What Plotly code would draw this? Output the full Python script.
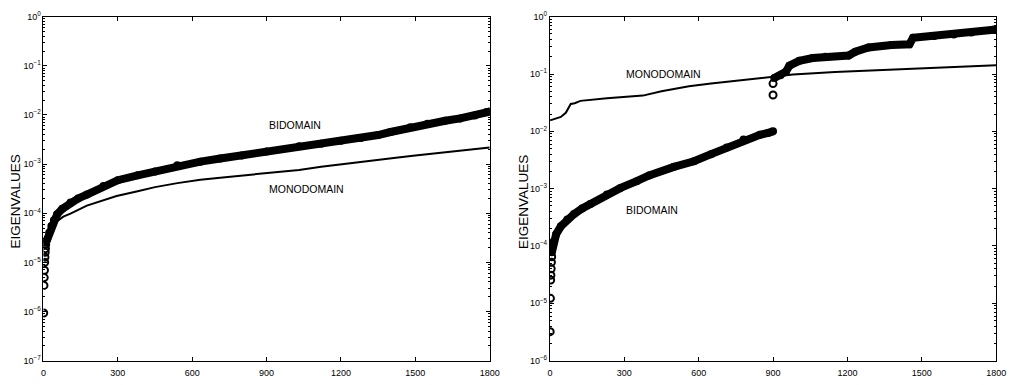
import numpy as np
import plotly.graph_objects as go

# ---------------- data ----------------
# Left panel
L_bi_circ_x = [1, 2, 3, 4, 5, 6, 7, 8, 9]
L_bi_circ_y = [9.3e-7, 3.4e-6, 4.9e-6, 6.9e-6, 1.0e-5, 1.27e-5, 1.6e-5, 1.9e-5, 2.3e-5]
L_bi_x = [10, 15, 23, 32, 42, 55, 76, 109, 140, 175, 242, 300, 380, 450, 540, 633, 713,
          800, 900, 1031, 1120, 1200, 1280, 1350, 1400, 1480, 1549, 1620, 1681, 1740, 1788, 1800]
L_bi_y = [2.5e-5, 3.0e-5, 4.0e-5, 5.5e-5, 7.2e-5, 9.5e-5, 1.23e-4, 1.66e-4, 2.0e-4, 2.4e-4,
          3.6e-4, 4.7e-4, 5.9e-4, 7.1e-4, 9.5e-4, 1.12e-3, 1.3e-3, 1.5e-3, 1.8e-3, 2.3e-3,
          2.6e-3, 3.0e-3, 3.4e-3, 3.9e-3, 4.5e-3, 5.6e-3, 6.6e-3, 7.6e-3, 8.5e-3, 9.8e-3,
          1.15e-2, 1.17e-2]
L_mono_x = [1, 10, 25, 50, 80, 109, 175, 240, 295, 380, 450, 540, 633, 713, 800, 900, 1031,
            1120, 1243, 1350, 1430, 1500, 1600, 1700, 1800]
L_mono_y = [2.8e-5, 3.5e-5, 4.6e-5, 6.6e-5, 8.5e-5, 9.8e-5, 1.43e-4, 1.85e-4, 2.24e-4, 2.8e-4,
            3.4e-4, 4.1e-4, 4.8e-4, 5.3e-4, 5.9e-4, 6.5e-4, 7.6e-4, 8.8e-4, 1.06e-3, 1.22e-3,
            1.36e-3, 1.5e-3, 1.7e-3, 1.95e-3, 2.18e-3]

# Right panel
R_bi_circ_x = [1, 2, 3, 4, 5, 6, 7, 900, 900]
R_bi_circ_y = [3.2e-6, 1.22e-5, 2.55e-5, 3.1e-5, 4.0e-5, 5.2e-5, 6.5e-5, 0.043, 0.068]
R_bi_low_x = [8, 15, 25, 44, 70, 97, 130, 163, 230, 283, 350, 400, 500, 581, 650, 713, 781,
              847, 880, 900]
R_bi_low_y = [7.8e-5, 1.2e-4, 1.6e-4, 2.2e-4, 2.9e-4, 3.6e-4, 4.5e-4, 5.4e-4, 7.9e-4, 1.02e-3,
              1.35e-3, 1.7e-3, 2.4e-3, 3.0e-3, 4.0e-3, 5.2e-3, 7.2e-3, 8.7e-3, 9.4e-3, 1.0e-2]
R_bi_high_x = [905, 930, 952, 966, 1006, 1060, 1112, 1205, 1232, 1285, 1378, 1450, 1465, 1550,
               1629, 1700, 1788, 1800]
R_bi_high_y = [0.085, 0.095, 0.11, 0.14, 0.17, 0.19, 0.20, 0.21, 0.245, 0.29, 0.32, 0.33, 0.43,
               0.46, 0.49, 0.53, 0.59, 0.60]
R_mono_x = [1, 20, 44, 64, 75, 84, 100, 123, 230, 375, 450, 561, 650, 750, 847, 980, 1150,
            1298, 1378, 1500, 1650, 1800]
R_mono_y = [1.55e-2, 1.65e-2, 1.78e-2, 2.1e-2, 2.6e-2, 3.0e-2, 3.1e-2, 3.4e-2, 3.76e-2, 4.2e-2,
            5.0e-2, 6.1e-2, 6.8e-2, 7.6e-2, 8.5e-2, 0.098, 0.108, 0.115, 0.12, 0.127, 0.135,
            0.142]

# Labels
L_labels = ["BIDOMAIN", "MONODOMAIN"]
L_label_x = [900, 900]
L_label_y = [6.3e-3, 3.05e-4]
R_labels = ["MONODOMAIN", "BIDOMAIN"]
R_label_x = [300, 300]
R_label_y = [0.10, 4.2e-4]

x_ticks = [0, 300, 600, 900, 1200, 1500, 1800]
x_ticktext = ["0", "300", "600", "900", "1200", "1500", "1800"]
L_exps = [-7, -6, -5, -4, -3, -2, -1, 0]
R_exps = [-6, -5, -4, -3, -2, -1, 0]
y_title = "EIGENVALUES"

# ---------------- figure ----------------
FONT = "Liberation Sans, Arial, Helvetica, sans-serif"
BLACK = "#000000"
fig = go.Figure()

def band(x, y, xa, ya):
    fig.add_trace(go.Scatter(x=x, y=y, xaxis=xa, yaxis=ya, mode="lines+markers",
                             line=dict(color=BLACK, width=8),
                             marker=dict(symbol="circle", size=6, color=BLACK,
                                         line=dict(color=BLACK, width=2)),
                             showlegend=False, hoverinfo="skip"))

def circles(x, y, xa, ya):
    fig.add_trace(go.Scatter(x=x, y=y, xaxis=xa, yaxis=ya, mode="markers",
                             marker=dict(symbol="circle-open", size=7, color=BLACK,
                                         line=dict(color=BLACK, width=2)),
                             showlegend=False, hoverinfo="skip"))

def mono(x, y, xa, ya):
    fig.add_trace(go.Scatter(x=x, y=y, xaxis=xa, yaxis=ya, mode="lines",
                             line=dict(color=BLACK, width=2),
                             showlegend=False, hoverinfo="skip"))

mono(L_mono_x, L_mono_y, "x", "y")
band(L_bi_x, L_bi_y, "x", "y")
circles(L_bi_circ_x, L_bi_circ_y, "x", "y")

mono(R_mono_x, R_mono_y, "x2", "y2")
band(R_bi_low_x, R_bi_low_y, "x2", "y2")
band(R_bi_high_x, R_bi_high_y, "x2", "y2")
circles(R_bi_circ_x, R_bi_circ_y, "x2", "y2")

W, H = 1018, 385
ydom = [(H - 365) / H, (H - 10) / H]
xdomL = [41 / W, 493 / W]
xdomR = [554 / W, 1006 / W]

def minor_vals(exps):
    vals = []
    for e in exps[:-1]:
        for k in range(2, 10):
            vals.append(k * 10.0 ** e)
    return vals

common = dict(showline=True, linecolor=BLACK, linewidth=1, mirror="ticks", ticks="inside",
              tickcolor=BLACK, tickwidth=1, showgrid=False, zeroline=False,
              tickfont=dict(family=FONT, size=9, color=BLACK))

xax = dict(common, range=[0, 1800], tickvals=x_ticks, ticktext=x_ticktext, ticklen=4,
           ticklabelstandoff=4)

def yax(exps):
    return dict(common, type="log", range=[exps[0], exps[-1]],
                tickvals=[10.0 ** e for e in exps],
                ticktext=["10<sup>%s</sup>" % (str(e).replace("-", "\u2212")) for e in exps],
                ticklen=4,
                minor=dict(ticks="inside", ticklen=2, tickcolor=BLACK, tickwidth=1,
                           tickvals=minor_vals(exps), showgrid=False))

fig.update_layout(
    width=W, height=H, margin=dict(l=0, r=0, t=0, b=0),
    paper_bgcolor="white", plot_bgcolor="white",
    font=dict(family=FONT, size=9, color=BLACK),
    xaxis=dict(xax, domain=xdomL, anchor="y"),
    yaxis=dict(yax(L_exps), domain=ydom, anchor="x"),
    xaxis2=dict(xax, domain=xdomR, anchor="y2"),
    yaxis2=dict(yax(R_exps), domain=ydom, anchor="x2"),
)

ann = []
for t, xv, yv in zip(L_labels, L_label_x, L_label_y):
    ann.append(dict(text=t, x=xv, y=np.log10(yv), xref="x", yref="y", xanchor="left",
                    yanchor="middle", showarrow=False, font=dict(family=FONT, size=10.5, color=BLACK)))
for t, xv, yv in zip(R_labels, R_label_x, R_label_y):
    ann.append(dict(text=t, x=xv, y=np.log10(yv), xref="x2", yref="y2", xanchor="left",
                    yanchor="middle", showarrow=False, font=dict(family=FONT, size=10.5, color=BLACK)))
for xp in [13 / W, 527 / W]:
    ann.append(dict(text=y_title, x=xp, y=(H - 201) / H, xref="paper", yref="paper",
                    xanchor="center", yanchor="middle", textangle=-90, showarrow=False,
                    font=dict(family=FONT, size=13.5, color=BLACK)))
fig.update_layout(annotations=ann)

fig.write_html("out.html")
